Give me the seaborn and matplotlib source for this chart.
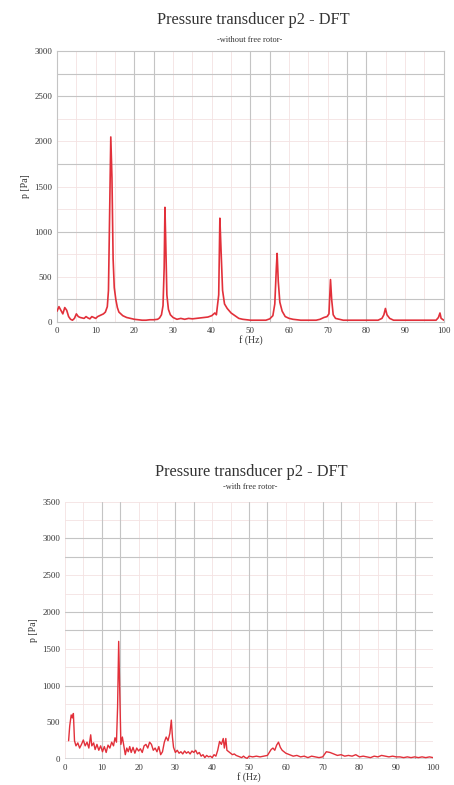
import matplotlib
matplotlib.use("Agg")
import matplotlib.pyplot as plt
import seaborn as sns

# spectrum without free rotor
f_top = [0.0, 0.5, 1.0, 1.5, 2.0, 2.5, 3.0, 3.5, 4.0, 4.5, 5.0, 5.5, 6.0, 7.0, 7.5, 8.0,
         8.5, 9.0, 9.5, 10.0, 10.5, 11.0, 11.5, 12.0, 12.5, 13.0, 13.3, 13.6, 13.9, 14.2,
         14.5, 14.8, 15.2, 15.6, 16.0, 17.0, 18.0, 19.0, 20.0, 21.0, 22.0, 23.0, 24.0,
         25.0, 26.0, 26.5, 27.0, 27.4, 27.7, 27.9, 28.1, 28.4, 28.8, 29.3, 30.0, 31.0,
         32.0, 33.0, 34.0, 35.0, 36.0, 37.0, 38.0, 39.0, 40.0, 40.8, 41.2, 41.8, 42.1,
         42.4, 42.8, 43.3, 44.0, 45.0, 46.0, 47.0, 48.0, 49.0, 50.0, 52.0, 54.0, 55.0,
         55.8, 56.3, 56.7, 56.9, 57.2, 57.6, 58.2, 59.0, 60.0, 61.0, 63.0, 65.0, 67.0,
         68.0, 69.0, 69.8, 70.3, 70.7, 71.0, 71.4, 72.0, 74.0, 77.0, 80.0, 83.0, 84.0,
         84.5, 84.9, 85.3, 86.0, 87.0, 90.0, 93.0, 96.0, 98.0, 98.6, 99.0, 99.3, 100.0]
p_top = [120, 170, 130, 90, 160, 130, 60, 30, 20, 40, 90, 60, 50, 40, 60, 45,
         35, 60, 50, 40, 60, 70, 80, 90, 110, 170, 350, 1200, 2050, 1600,
         700, 380, 250, 160, 110, 70, 50, 40, 30, 25, 20, 20, 25,
         25, 30, 45, 80, 180, 600, 1270, 900, 300, 140, 80, 50, 30,
         40, 30, 40, 35, 40, 45, 50, 55, 70, 100, 80, 300, 1150,
         800, 350, 200, 150, 100, 70, 40, 30, 25, 20, 20, 20, 35,
         70, 200, 600, 760, 450, 220, 120, 60, 40, 30, 20, 20, 20,
         30, 50, 60, 90, 470, 250, 80, 40, 20, 20, 20, 20, 40,
         80, 150, 80, 40, 20, 20, 20, 20, 20, 50, 100, 40, 20]

# spectrum with free rotor
f_bot = [1.0, 1.3, 1.7, 2.0, 2.3, 2.6, 3.0, 3.5, 4.0, 4.5, 5.0, 5.5, 6.0, 6.5, 7.0, 7.3,
         7.8, 8.2, 8.7, 9.2, 9.7, 10.2, 10.7, 11.2, 11.7, 12.2, 12.7, 13.2, 13.6, 14.0,
         14.3, 14.6, 14.9, 15.2, 15.6, 16.0, 16.4, 16.8, 17.2, 17.6, 18.0, 18.5, 19.0,
         19.5, 20.0, 20.5, 21.0, 21.5, 22.0, 22.5, 23.0, 23.5, 24.0, 24.5, 25.0, 25.5,
         26.0, 26.5, 27.0, 27.5, 28.0, 28.5, 28.9, 29.2, 29.5, 30.0, 30.5, 31.0, 31.5,
         32.0, 32.5, 33.0, 33.5, 34.0, 34.5, 35.0, 35.5, 36.0, 36.5, 37.0, 37.5, 38.0,
         38.5, 39.0, 39.5, 40.0, 40.5, 41.0, 41.5, 42.0, 42.5, 43.0, 43.3, 43.7, 44.0,
         44.5, 45.0, 45.5, 46.0, 46.5, 47.0, 47.5, 48.0, 48.5, 49.0, 49.5, 50.0, 51.0,
         52.0, 53.0, 54.0, 55.0, 56.0, 56.5, 57.0, 57.5, 58.0, 58.5, 59.0, 59.5, 60.0,
         61.0, 62.0, 63.0, 64.0, 65.0, 66.0, 67.0, 68.0, 69.0, 70.0, 71.0, 72.0, 73.0,
         74.0, 75.0, 76.0, 77.0, 78.0, 79.0, 80.0, 81.0, 82.0, 83.0, 84.0, 85.0, 86.0,
         87.0, 88.0, 89.0, 90.0, 91.0, 92.0, 93.0, 94.0, 95.0, 96.0, 97.0, 98.0, 99.0, 100.0]
p_bot = [250, 450, 600, 560, 620, 250, 180, 220, 150, 200, 260, 180, 230, 150, 330, 180,
         220, 130, 200, 120, 180, 100, 170, 90, 190, 150, 230, 180, 290, 230,
         700, 1600, 900, 200, 300, 180, 60, 150, 100, 170, 90, 160, 80,
         150, 110, 140, 90, 180, 200, 150, 230, 200, 120, 150, 100, 170,
         60, 100, 230, 300, 250, 350, 530, 300, 160, 90, 120, 80, 100,
         70, 110, 80, 100, 70, 110, 90, 120, 70, 90, 40, 60, 20,
         50, 30, 40, 20, 60, 40, 120, 240, 200, 280, 150, 280, 120,
         100, 80, 60, 70, 50, 40, 30, 20, 40, 20, 10, 40, 30,
         40, 30, 40, 50, 130, 150, 120, 190, 230, 160, 120, 100, 80,
         60, 40, 50, 30, 40, 20, 40, 30, 20, 30, 100, 90, 70,
         50, 60, 40, 50, 40, 60, 30, 40, 30, 20, 40, 30, 50,
         40, 30, 40, 30, 30, 20, 30, 20, 30, 20, 30, 20, 30, 20]

LINE = "#e2303a"
GRID_DARK = "#c4c4c4"
GRID_LIGHT = "#f4e2e2"
TXT = "#333333"


def style_axes(ax, ymax, vdark, hdark, frame):
    ax.set_xlim(0, 100)
    ax.set_ylim(0, ymax)
    ax.set_xticks(range(0, 101, 10))
    ax.set_yticks(range(0, ymax + 1, 500))
    # faint minor grid
    for x in range(0, 101, 5):
        ax.axvline(x, color=GRID_LIGHT, lw=0.6, zorder=0)
    for y in range(0, ymax + 1, 250):
        ax.axhline(y, color=GRID_LIGHT, lw=0.6, zorder=0)
    for x in vdark:
        ax.axvline(x, color=GRID_DARK, lw=0.8, zorder=1)
    for y in hdark:
        ax.axhline(y, color=GRID_DARK, lw=0.8, zorder=1)
    ax.tick_params(labelsize=6.3, colors=TXT, length=2, width=0.5, pad=1.5)
    ax.set_ylabel("p [Pa]", fontsize=7, color=TXT, labelpad=3)
    ax.set_xlabel("f (Hz)", fontsize=7, color=TXT, labelpad=0)
    for s in ax.spines.values():
        s.set_visible(frame)
        s.set_color(GRID_DARK)
        s.set_linewidth(0.8)


def main():
    sns.set_theme(style="white")
    plt.rcParams['font.family'] = ['Liberation Serif', 'DejaVu Serif']

    fig = plt.figure(figsize=(4.54, 7.85), dpi=100)

    ax1 = fig.add_axes([0.1256, 0.5898, 0.852, 0.345])
    sns.lineplot(x=f_top, y=p_top, ax=ax1, color=LINE, lw=1.2, zorder=3)
    style_axes(ax1, 3000, [20, 25, 50, 55, 75, 80], [250, 1000, 1750, 2500, 2750], True)

    ax2 = fig.add_axes([0.143, 0.033, 0.811, 0.328])
    sns.lineplot(x=f_bot, y=p_bot, ax=ax2, color=LINE, lw=1.0, zorder=3)
    style_axes(ax2, 3500, [10, 15, 30, 35, 50, 55, 70, 75, 90, 95],
               [1000, 1750, 2000, 2750, 3000], False)
    ax2.axhline(0, color="#3a3f4a", lw=1.0, zorder=2)

    fig.text(0.557, 0.975, "Pressure transducer p2 - DFT", ha="center", va="center",
             fontsize=11.8, color=TXT)
    fig.text(0.55, 0.949, "-without free rotor-", ha="center", va="center",
             fontsize=6, color=TXT)
    fig.text(0.553, 0.399, "Pressure transducer p2 - DFT", ha="center", va="center",
             fontsize=11.8, color=TXT)
    fig.text(0.55, 0.38, "-with free rotor-", ha="center", va="center",
             fontsize=6, color=TXT)

    fig.savefig("out.png", dpi=100)
    plt.close(fig)


if __name__ == "__main__":
    main()
